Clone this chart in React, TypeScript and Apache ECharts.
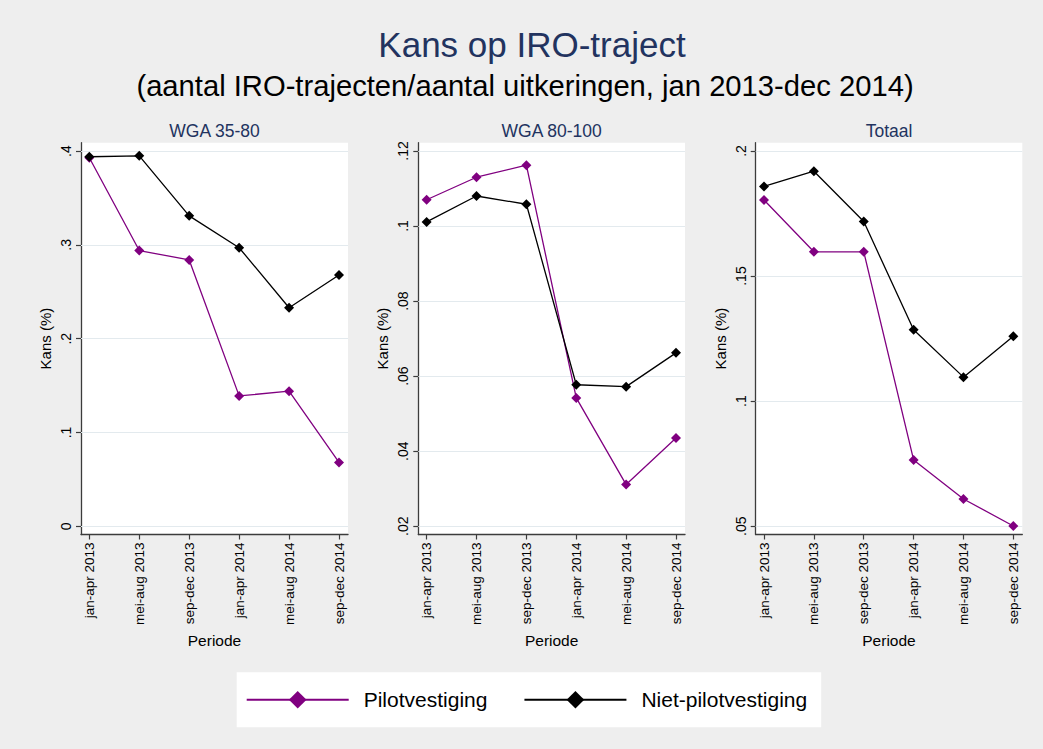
import { useEffect, useRef } from "react";
import * as echarts from "echarts";

const categories = [
  "jan-apr 2013",
  "mei-aug 2013",
  "sep-dec 2013",
  "jan-apr 2014",
  "mei-aug 2014",
  "sep-dec 2014",
];

const wga3580Pilot = [0.393, 0.294, 0.284, 0.139, 0.144, 0.068];
const wga3580Niet = [0.394, 0.395, 0.331, 0.297, 0.233, 0.268];
const wga80100Pilot = [0.107, 0.113, 0.1162, 0.0542, 0.0311, 0.0435];
const wga80100Niet = [0.1011, 0.108, 0.1058, 0.0577, 0.0572, 0.0662];
const totaalPilot = [0.1804, 0.1597, 0.1597, 0.0765, 0.0609, 0.0501];
const totaalNiet = [0.1858, 0.1919, 0.1718, 0.1285, 0.1096, 0.1259];

const ticksWga3580 = [0, 0.1, 0.2, 0.3, 0.4];
const ticksWga80100 = [0.02, 0.04, 0.06, 0.08, 0.1, 0.12];
const ticksTotaal = [0.05, 0.1, 0.15, 0.2];

const panelTitles = ["WGA 35-80", "WGA 80-100", "Totaal"];
const seriesNames = ["Pilotvestiging", "Niet-pilotvestiging"];

const FONT = "'Liberation Sans', Arial, Helvetica, sans-serif";
const PURPLE = "#800080";
const BLACK = "#000000";
const AXIS = "#3c3c3c";
const GRIDLINE = "#e3eaee";
const NAVY = "#22335f";

const panels = [
  { title: panelTitles[0], pilot: wga3580Pilot, niet: wga3580Niet, ticks: ticksWga3580, min: -0.0088, max: 0.409, left: 81, width: 267 },
  { title: panelTitles[1], pilot: wga80100Pilot, niet: wga80100Niet, ticks: ticksWga80100, min: 0.0178, max: 0.1222, left: 418.3, width: 266.7 },
  { title: panelTitles[2], pilot: totaalPilot, niet: totaalNiet, ticks: ticksTotaal, min: 0.0467, max: 0.2033, left: 755.7, width: 266.6 },
];

const GRID_TOP = 142.7;
const GRID_HEIGHT = 391.8;

const fmtY = (v: number) => {
  const s = String(+v.toFixed(4));
  return s.replace(/^0\./, ".");
};

export default function App() {
  const ref = useRef<HTMLDivElement>(null);
  useEffect(() => {
    document.body.style.margin = "0";
    const chart = echarts.init(ref.current!, null, { renderer: "svg" });
    const catIdx = categories.map((_, i) => i);

    const grid = panels.map((p) => ({
      left: p.left,
      top: GRID_TOP,
      width: p.width,
      height: GRID_HEIGHT,
      show: true,
      backgroundColor: "#ffffff",
      borderWidth: 0,
    }));

    const xAxis = panels.map((p, i) => ({
      type: "value",
      gridIndex: i,
      min: -0.167,
      max: 5.18,
      axisLine: { show: true, onZero: false, lineStyle: { color: AXIS, width: 1.3 } },
      axisTick: { show: true, length: 5, customValues: catIdx, lineStyle: { color: AXIS, width: 1.2 } },
      axisLabel: {
        customValues: catIdx,
        rotate: 90,
        margin: 8,
        formatter: (v: number) => categories[Math.round(v)],
        fontFamily: FONT,
        fontSize: 13.5,
        color: "#000",
      },
      splitLine: { show: false },
      name: "Periode",
      nameLocation: "middle",
      nameGap: 94,
      nameTextStyle: { fontFamily: FONT, fontSize: 15.5, color: "#000" },
    }));

    const yAxis = panels.map((p, i) => ({
      type: "value",
      gridIndex: i,
      min: p.min,
      max: p.max,
      axisLine: { show: true, onZero: false, lineStyle: { color: AXIS, width: 1.3 } },
      axisTick: { show: true, length: 5, customValues: p.ticks, lineStyle: { color: AXIS, width: 1.2 } },
      axisLabel: {
        customValues: p.ticks,
        rotate: 90,
        margin: 8,
        formatter: (v: number) => fmtY(v),
        fontFamily: FONT,
        fontSize: 14,
        color: "#000",
      },
      splitLine: { show: false },
      name: "Kans (%)",
      nameLocation: "middle",
      nameRotate: 90,
      nameGap: 28,
      nameTextStyle: { fontFamily: FONT, fontSize: 15, color: "#000" },
    }));

    const series: any[] = [];
    panels.forEach((p, i) => {
      series.push({
        type: "line",
        name: seriesNames[0],
        xAxisIndex: i,
        yAxisIndex: i,
        data: p.pilot.map((v, k) => [k, v]),
        symbol: "diamond",
        symbolSize: 10,
        lineStyle: { color: PURPLE, width: 1.3 },
        itemStyle: { color: PURPLE },
        z: 3,
        markLine: {
          silent: true,
          symbol: "none",
          label: { show: false },
          lineStyle: { color: GRIDLINE, width: 1.2, type: "solid" },
          emphasis: { disabled: true },
          data: p.ticks.map((t) => ({ yAxis: t })),
          z: 1,
        },
      });
      series.push({
        type: "line",
        name: seriesNames[1],
        xAxisIndex: i,
        yAxisIndex: i,
        data: p.niet.map((v, k) => [k, v]),
        symbol: "diamond",
        symbolSize: 10,
        lineStyle: { color: BLACK, width: 1.3 },
        itemStyle: { color: BLACK },
        z: 4,
      });
    });

    const graphic: any[] = [
      {
        type: "text",
        x: 532,
        y: 44,
        style: {
          text: "Kans op IRO-traject",
          fontFamily: FONT,
          fontSize: 35,
          fill: NAVY,
          textAlign: "center",
          textVerticalAlign: "middle",
        },
      },
      {
        type: "text",
        x: 525,
        y: 86,
        style: {
          text: "(aantal IRO-trajecten/aantal uitkeringen, jan 2013-dec 2014)",
          fontFamily: FONT,
          fontSize: 29.2,
          fill: "#000",
          textAlign: "center",
          textVerticalAlign: "middle",
        },
      },
      ...panels.map((p) => ({
        type: "text",
        x: p.left + p.width / 2,
        y: 131,
        style: {
          text: p.title,
          fontFamily: FONT,
          fontSize: 17.5,
          fill: NAVY,
          textAlign: "center",
          textVerticalAlign: "middle",
        },
      })),
    ];

    chart.setOption({
      animation: false,
      backgroundColor: "#eeeeee",
      grid,
      xAxis,
      yAxis,
      series,
      graphic,
      legend: {
        data: seriesNames,
        left: 236.7,
        top: 672.3,
        orient: "horizontal",
        backgroundColor: "#ffffff",
        borderWidth: 0,
        padding: [17, 14, 17, 9],
        itemWidth: 102,
        itemHeight: 22,
        itemGap: 36,
        selectedMode: false,
        lineStyle: { width: 2 },
        textStyle: { fontFamily: FONT, fontSize: 21, color: "#000", padding: [0, 0, 0, 10] },
      },
    });
    return () => chart.dispose();
  }, []);
  return <div ref={ref} style={{ width: 1043, height: 749, background: "#eeeeee" }} />;
}
